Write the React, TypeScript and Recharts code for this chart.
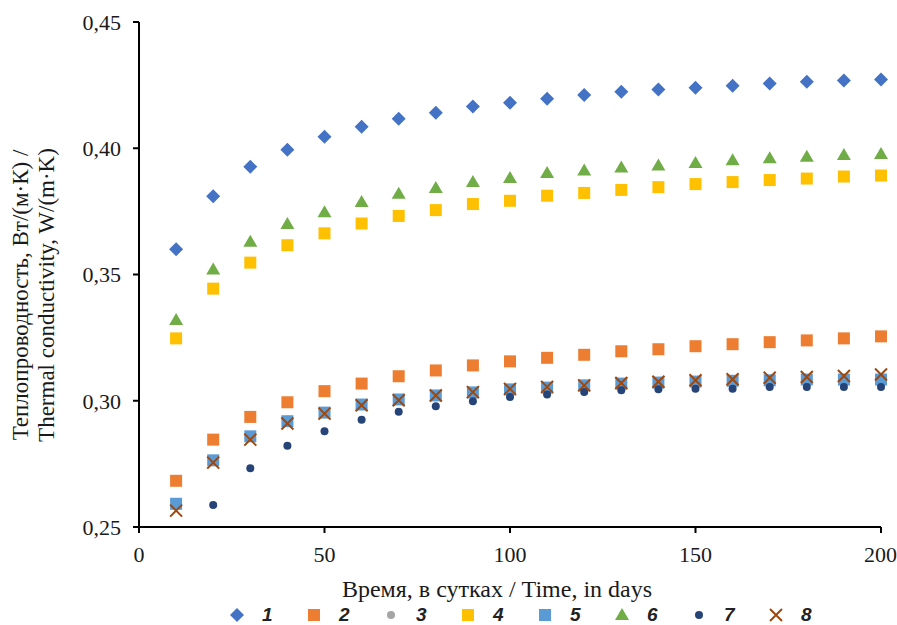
import React from 'react';
import { ScatterChart, Scatter, XAxis, YAxis, Legend } from 'recharts';

const days = [10, 20, 30, 40, 50, 60, 70, 80, 90, 100, 110, 120, 130, 140, 150, 160, 170, 180, 190, 200];

const series1 = [0.360, 0.381, 0.3927, 0.3994, 0.4046, 0.4085, 0.4117, 0.4141, 0.4165, 0.418, 0.4196, 0.4211, 0.4224, 0.4233, 0.424, 0.4248, 0.4256, 0.4263, 0.4268, 0.4272];
const series2 = [0.2683, 0.2846, 0.2936, 0.2994, 0.3038, 0.3068, 0.3097, 0.312, 0.314, 0.3156, 0.317, 0.3182, 0.3196, 0.3204, 0.3216, 0.3224, 0.3232, 0.3239, 0.3247, 0.3255];
const series3 = [0.2592, 0.2764, 0.2859, 0.2919, 0.2953, 0.2985, 0.3005, 0.3021, 0.3033, 0.3045, 0.3052, 0.3061, 0.3068, 0.3072, 0.3076, 0.3079, 0.3081, 0.3084, 0.3084, 0.3084];
const series4 = [0.3247, 0.3444, 0.3547, 0.3616, 0.3663, 0.3702, 0.3732, 0.3755, 0.3779, 0.3792, 0.3812, 0.3823, 0.3835, 0.3846, 0.3858, 0.3866, 0.3874, 0.388, 0.3888, 0.3892];
const series5 = [0.2592, 0.2764, 0.2859, 0.2919, 0.2953, 0.2985, 0.3005, 0.3021, 0.3033, 0.3045, 0.3052, 0.3061, 0.3068, 0.3072, 0.3076, 0.3079, 0.3081, 0.3084, 0.3084, 0.3084];
const series6 = [0.332, 0.352, 0.363, 0.370, 0.3747, 0.3787, 0.382, 0.3843, 0.3866, 0.3882, 0.3902, 0.3912, 0.3924, 0.3932, 0.3942, 0.3952, 0.396, 0.3966, 0.3973, 0.3977];
const series7 = [null, 0.2587, 0.2733, 0.2822, 0.2879, 0.2925, 0.2956, 0.2978, 0.2998, 0.3015, 0.3025, 0.3035, 0.3042, 0.3046, 0.3048, 0.3048, 0.3054, 0.3054, 0.3054, 0.3054];
const series8 = [0.2565, 0.2755, 0.2846, 0.291, 0.2949, 0.2982, 0.3002, 0.3021, 0.3034, 0.3047, 0.3055, 0.3061, 0.307, 0.3075, 0.3081, 0.3085, 0.3091, 0.3094, 0.3098, 0.3104];

const xTicks = [0, 50, 100, 150, 200];
const yTicks = [0.25, 0.3, 0.35, 0.4, 0.45];

const toPoints = (values: (number | null)[]) =>
  days
    .map((d, i) => ({ x: d, y: values[i] }))
    .filter((p) => p.y !== null);

// marker shapes (Excel style)
const Diamond = ({ cx, cy, fill }: any) => (
  <path d={`M${cx},${cy - 7} L${cx + 7},${cy} L${cx},${cy + 7} L${cx - 7},${cy} Z`} fill={fill} />
);
const Square = ({ cx, cy, fill }: any) => (
  <rect x={cx - 6} y={cy - 6} width={12} height={12} fill={fill} />
);
const Triangle = ({ cx, cy, fill }: any) => (
  <path d={`M${cx},${cy - 7} L${cx + 7},${cy + 5} L${cx - 7},${cy + 5} Z`} fill={fill} />
);
const Dot = ({ cx, cy, fill }: any) => <circle cx={cx} cy={cy} r={4} fill={fill} />;
const Cross = ({ cx, cy, fill }: any) => (
  <path
    d={`M${cx - 6},${cy - 6} L${cx + 6},${cy + 6} M${cx + 6},${cy - 6} L${cx - 6},${cy + 6}`}
    stroke={fill}
    strokeWidth={2}
  />
);

const seriesList = [
  { name: '1', values: series1, color: '#4472C4', shape: Diamond },
  { name: '2', values: series2, color: '#ED7D31', shape: Square },
  { name: '3', values: series3, color: '#A5A5A5', shape: Dot },
  { name: '4', values: series4, color: '#FFC000', shape: Square },
  { name: '5', values: series5, color: '#5B9BD5', shape: Square },
  { name: '6', values: series6, color: '#70AD47', shape: Triangle },
  { name: '7', values: series7, color: '#264478', shape: Dot },
  { name: '8', values: series8, color: '#9E480E', shape: Cross },
];

const serif = 'Liberation Serif, serif';

const YLabel = () => (
  <text
    transform="translate(33, 295) rotate(-90)"
    textAnchor="middle"
    style={{ fontFamily: serif, fontSize: 23 }}
    fill="#1a1a1a"
  >
    <tspan x={0} dy={-5}>Теплопроводность, Вт/(м·К) /</tspan>
    <tspan x={0} dy={26}>Thermal conductivity, W/(m·K)</tspan>
  </text>
);

const XLabel = ({ viewBox }: any) => (
  <text
    x={viewBox.x + viewBox.width / 2 - 13}
    y={597}
    textAnchor="middle"
    style={{ fontFamily: serif, fontSize: 24 }}
    fill="#1a1a1a"
  >
    Время, в сутках / Time, in days
  </text>
);

const LegendIcon = ({ shape: Shape, color }: any) => (
  <svg width={16} height={16} style={{ display: 'block' }}>
    <Shape cx={8} cy={8} fill={color} />
  </svg>
);

const CustomLegend = () => (
  <div style={{ display: 'flex', paddingLeft: 229, height: 20, alignItems: 'center' }}>
    {seriesList.map((s) => (
      <div key={s.name} style={{ display: 'flex', alignItems: 'center', width: 77, height: 20 }}>
        <LegendIcon shape={s.shape} color={s.color} />
        <span
          style={{
            marginLeft: 17,
            fontFamily: '"Liberation Sans", Arial, sans-serif',
            fontWeight: 'bold',
            fontStyle: 'italic',
            fontSize: 19,
            lineHeight: '20px',
            color: '#222',
          }}
        >
          {s.name}
        </span>
      </div>
    ))}
  </div>
);

export default function App() {
  return (
    <div style={{ position: 'absolute', left: 0, top: 0, background: '#fff' }}>
      <ScatterChart width={897} height={625} margin={{ top: 22, right: 16, bottom: 18, left: 0 }}>
        <XAxis
          type="number"
          dataKey="x"
          domain={[0, 200]}
          ticks={xTicks}
          tickSize={6}
          tickMargin={13}
          height={60}
          axisLine={{ stroke: '#000', strokeWidth: 2 }}
          tickLine={{ stroke: '#000', strokeWidth: 2 }}
          tick={{ fontFamily: serif, fontSize: 22, fill: '#1a1a1a' }}
          label={<XLabel />}
        />
        <YAxis
          type="number"
          dataKey="y"
          domain={[0.25, 0.45]}
          ticks={yTicks}
          width={139}
          tickSize={6}
          tickMargin={12}
          axisLine={{ stroke: '#000', strokeWidth: 2 }}
          tickLine={{ stroke: '#000', strokeWidth: 2 }}
          tick={{ fontFamily: serif, fontSize: 22, fill: '#1a1a1a' }}
          tickFormatter={(v: number) => v.toFixed(2).replace('.', ',')}
          label={<YLabel />}
        />
        <Legend
          verticalAlign="bottom"
          height={20}
          wrapperStyle={{ top: 605, bottom: 'auto', height: 20 }}
          content={<CustomLegend />}
        />
        {seriesList.map((s) => (
          <Scatter
            key={s.name}
            name={s.name}
            data={toPoints(s.values)}
            fill={s.color}
            shape={<s.shape />}
            isAnimationActive={false}
          />
        ))}
      </ScatterChart>
    </div>
  );
}
